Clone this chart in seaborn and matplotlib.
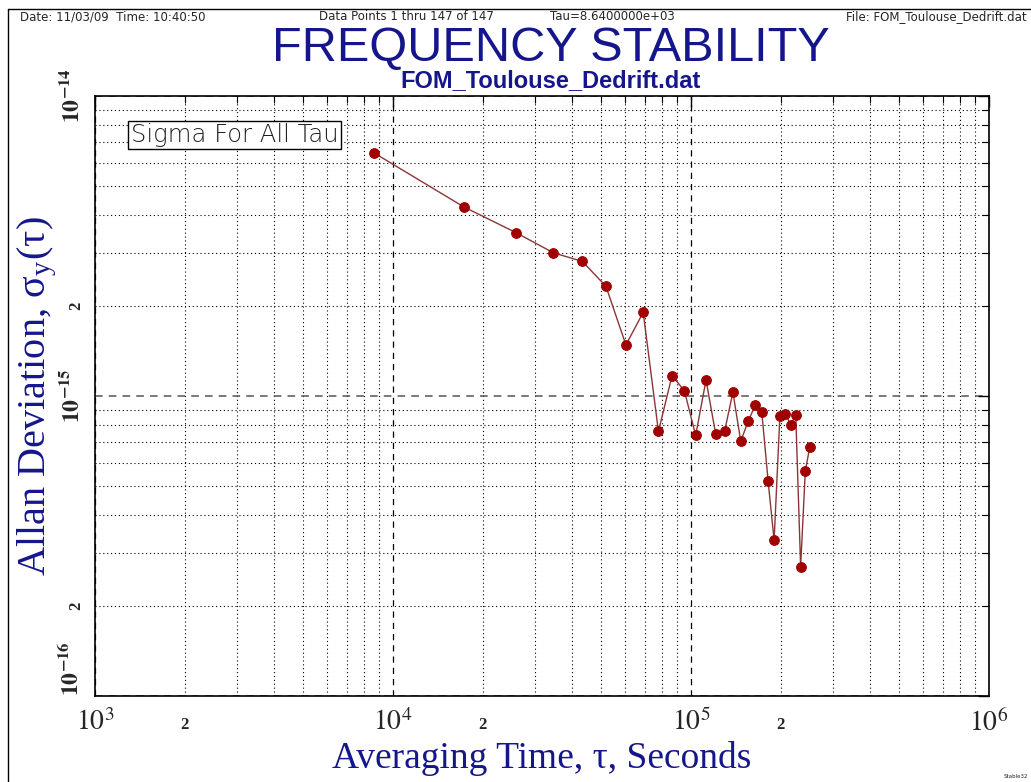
import matplotlib
matplotlib.use("Agg")
import matplotlib.pyplot as plt
import matplotlib.ticker as mticker
from matplotlib.lines import Line2D
import pandas as pd
import seaborn as sns

# averaging times (s) and Allan deviation
tau = [8640, 17280, 25920, 34560, 43200, 51840, 60480, 69120, 77760, 86400,
       95040, 103680, 112320, 120960, 129600, 138240, 146880, 155520, 164160,
       172800, 181440, 190080, 198720, 207360, 216000, 224640, 233280, 241920,
       250560]
adev = [6.46e-15, 4.27e-15, 3.50e-15, 3.00e-15, 2.81e-15, 2.32e-15, 1.48e-15,
        1.90e-15, 7.62e-16, 1.17e-15, 1.04e-15, 7.39e-16, 1.13e-15, 7.49e-16,
        7.62e-16, 1.03e-15, 7.06e-16, 8.24e-16, 9.31e-16, 8.84e-16, 5.21e-16,
        3.30e-16, 8.57e-16, 8.71e-16, 8.02e-16, 8.62e-16, 2.70e-16, 5.64e-16,
        6.78e-16]

x_major = [1e3, 1e4, 1e5, 1e6]
x_major_labels = ["$10^{3}$", "$10^{4}$", "$10^{5}$", "$10^{6}$"]
y_major = [1e-16, 1e-15, 1e-14]
y_major_labels = [r"$\mathbf{10^{-16}}$", r"$\mathbf{10^{-15}}$", r"$\mathbf{10^{-14}}$"]

header_left = "Date: 11/03/09  Time: 10:40:50"
header_mid = "Data Points 1 thru 147 of 147"
header_tau = "Tau=8.6400000e+03"
header_file = "File: FOM_Toulouse_Dedrift.dat"
title = "FREQUENCY STABILITY"
subtitle = "FOM_Toulouse_Dedrift.dat"

sns.set_style("white")
plt.rcParams["font.family"] = ["DejaVu Sans"]
plt.rcParams["mathtext.fontset"] = "stix"

navy = "#16168c"
sans = ["Liberation Sans", "DejaVu Sans"]
serif = ["Liberation Serif", "DejaVu Serif"]


def minor_ticks(lo_exp, hi_exp):
    return [m * 10.0 ** e for e in range(lo_exp, hi_exp) for m in range(2, 10)]


def two_only(v, pos):
    mant = v / 10.0 ** int(f"{v:e}".split("e")[1])
    return "2" if round(mant) == 2 else ""


fig = plt.figure(figsize=(10.31, 7.82), dpi=100)
ax = fig.add_axes([95 / 1031, 1 - 696 / 782, 894 / 1031, 600 / 782])

df = pd.DataFrame({"tau": tau, "adev": adev})
sns.lineplot(data=df, x="tau", y="adev", ax=ax, color="#8b3535", lw=1,
             marker="o", markersize=7, markerfacecolor="#a00000",
             markeredgecolor="#a00000", zorder=5)

ax.set_xscale("log")
ax.set_yscale("log")

ax.xaxis.set_major_locator(mticker.FixedLocator(x_major))
ax.xaxis.set_major_formatter(mticker.FixedFormatter(x_major_labels))
ax.xaxis.set_minor_locator(mticker.FixedLocator(minor_ticks(3, 6)))
ax.xaxis.set_minor_formatter(mticker.FuncFormatter(two_only))
ax.yaxis.set_major_locator(mticker.FixedLocator(y_major))
ax.yaxis.set_major_formatter(mticker.FixedFormatter(y_major_labels))
ax.yaxis.set_minor_locator(mticker.FixedLocator(minor_ticks(-16, -14)))
ax.yaxis.set_minor_formatter(mticker.FuncFormatter(two_only))
ax.set_xlim(1e3, 1e6)
ax.set_ylim(1e-16, 1e-14)

ax.tick_params(which="both", direction="in", top=True, right=True, color="black")
ax.tick_params(which="major", length=8, width=1)
ax.tick_params(which="minor", length=5, width=0.8)
ax.tick_params(axis="x", which="major", labelsize=20, pad=9)
ax.tick_params(axis="x", which="minor", labelsize=12, pad=15)
ax.tick_params(axis="y", which="major", labelsize=17, pad=8)
ax.tick_params(axis="y", which="minor", labelsize=12, pad=8)
for lab in ax.get_yticklabels(which="both"):
    lab.set_rotation(90)
    lab.set_va("center")
ax.get_yticklabels()[0].set_va("bottom")
for lab in ax.get_xticklabels(which="minor") + ax.get_yticklabels(which="minor"):
    lab.set_family(serif)
    lab.set_fontweight("bold")

ax.grid(which="minor", ls=(0, (1, 2.5)), color="black", lw=0.8)
ax.xaxis.grid(True, which="major", ls=(0, (5, 4)), color="black", lw=0.9)
ax.yaxis.grid(True, which="major", ls=(0, (5, 4)), color="#555555", lw=1.1)
for s in ax.spines.values():
    s.set_color("black")
    s.set_linewidth(1.2)

ax.set_xlabel("Averaging Time, \u03c4, Seconds", fontsize=27, color=navy,
              family=serif, va="baseline")
ax.xaxis.set_label_coords(0.5, -0.12)
ax.set_ylabel("Allan Deviation, \u03c3$_\\mathregular{y}$(\u03c4)", fontsize=29,
              color=navy, family=serif, labelpad=0)

ax.text(0.04, 0.935, "Sigma For All Tau", transform=ax.transAxes, fontsize=17.5,
        color="#222222", va="center", ha="left", fontweight="light",
        bbox=dict(boxstyle="square,pad=0.1", fc="white", ec="black", lw=1))

hy = 1 - 17 / 782
fig.text(20 / 1031, hy, header_left, fontsize=8.5, va="center", ha="left")
fig.text(406 / 1031, hy, header_mid, fontsize=8.5, va="center", ha="center")
fig.text(612 / 1031, hy, header_tau, fontsize=8.5, va="center", ha="center")
fig.text(1027 / 1031, hy, header_file, fontsize=8.5, va="center", ha="right")
fig.text(551 / 1031, 1 - 48 / 782, title, fontsize=35, color=navy, va="center",
         ha="center", family=sans)
fig.text(551 / 1031, 1 - 81 / 782, subtitle, fontsize=17, color=navy, va="center",
         ha="center", family=sans, fontweight="bold")
fig.text(1028 / 1031, 1 - 776 / 782, "Stable32", fontsize=4, va="center", ha="right")

fig.add_artist(Line2D([8 / 1031, 8 / 1031], [0, 1 - 9 / 782], transform=fig.transFigure,
                      color="black", lw=1))
fig.add_artist(Line2D([8 / 1031, 1], [1 - 9 / 782, 1 - 9 / 782], transform=fig.transFigure,
                      color="black", lw=1))

fig.savefig("out.png", dpi=100, facecolor="white")
plt.close(fig)
